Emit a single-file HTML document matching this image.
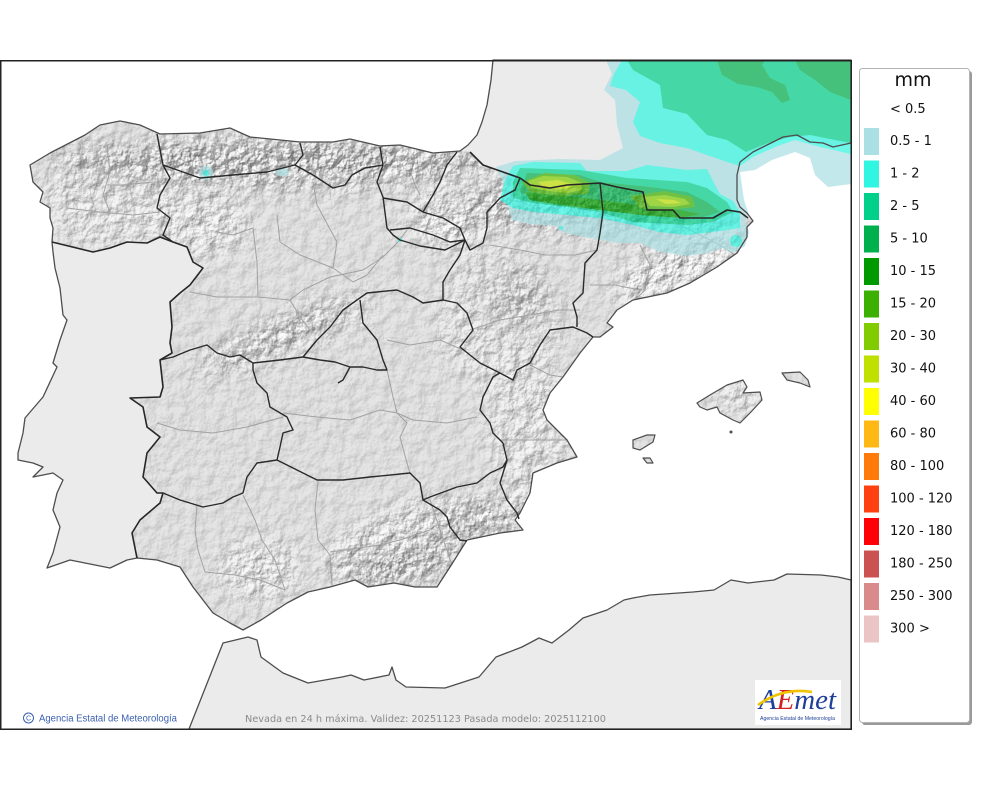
<!DOCTYPE html>
<html><head><meta charset="utf-8"><style>
html,body{margin:0;padding:0;background:#fff;width:1000px;height:790px;overflow:hidden}
svg{display:block}
</style></head><body>
<svg width="1000" height="790" viewBox="0 0 1000 790" xmlns="http://www.w3.org/2000/svg">
<defs>
<filter id="hs" filterUnits="userSpaceOnUse" x="0" y="60" width="851" height="670" color-interpolation-filters="sRGB">
<feTurbulence type="fractalNoise" baseFrequency="0.085" numOctaves="4" seed="4" result="n"/>
<feDiffuseLighting in="n" surfaceScale="4" diffuseConstant="1" lighting-color="#ffffff" result="l">
<feDistantLight azimuth="225" elevation="45"/>
</feDiffuseLighting>
<feComponentTransfer>
<feFuncR type="linear" slope="0.6" intercept="0.45"/>
<feFuncG type="linear" slope="0.6" intercept="0.45"/>
<feFuncB type="linear" slope="0.6" intercept="0.45"/>
<feFuncA type="linear" slope="0" intercept="1"/>
</feComponentTransfer>
</filter>
<filter id="hs2" filterUnits="userSpaceOnUse" x="0" y="60" width="851" height="670" color-interpolation-filters="sRGB">
<feTurbulence type="fractalNoise" baseFrequency="0.11" numOctaves="3" seed="9" result="n"/>
<feDiffuseLighting in="n" surfaceScale="9" diffuseConstant="1" lighting-color="#ffffff" result="l">
<feDistantLight azimuth="225" elevation="40"/>
</feDiffuseLighting>
<feComponentTransfer>
<feFuncR type="linear" slope="0.75" intercept="0.33"/>
<feFuncG type="linear" slope="0.75" intercept="0.33"/>
<feFuncB type="linear" slope="0.75" intercept="0.33"/>
<feFuncA type="linear" slope="0" intercept="1"/>
</feComponentTransfer>
</filter>
<filter id="blur" x="-50%" y="-50%" width="200%" height="200%"><feGaussianBlur stdDeviation="12"/></filter>
<clipPath id="spain">
<polygon points="470,152 483,165 503,172 520,178 530,185 550,188 567,185 600,183 617,187 643,192 647,210 673,210 680,218 713,218 727,210 740,212 748,218 753,221 747,227 747,237 737,253 717,267 690,283 667,293 633,300 617,310 607,323 613,327 600,337 593,337 580,353 563,377 550,393 543,410 547,420 567,440 577,457 557,463 533,473 530,493 520,513 515,520 523,530 500,533 467,540 450,567 437,587 415,587 394,583 368,587 355,580 330,587 308,592 287,603 261,620 243,630 230,623 213,613 203,600 193,587 180,567 157,560 137,558 132,533 140,520 160,503 163,493 157,493 143,477 147,453 160,437 147,427 143,407 130,398 160,397 163,387 160,360 172,353 170,343 172,327 170,302 180,293 190,285 203,268 193,262 187,247 173,242 160,237 147,243 127,242 110,248 93,252 52,242 53,228 50,218 50,208 40,202 43,192 33,182 30,165 50,153 85,135 100,125 120,121 140,125 160,134 200,133 230,128 250,137 300,142 333,142 350,139 380,146 400,145 433,153 460,151"/>
<polygon points="697,403 710,395 727,385 743,380 747,387 743,393 760,392 762,400 750,413 740,423 733,420 720,413 717,407 707,410 700,407"/>
<polygon points="782,373 800,372 808,380 810,387 800,383 787,380"/>
<polygon points="633,440 647,435 655,435 653,442 640,450 633,448"/>
<polygon points="643,458 647,463 653,463 650,458"/>
</clipPath>
<mask id="mtn" maskUnits="userSpaceOnUse" x="0" y="0" width="1000" height="790">
<rect x="0" y="0" width="1000" height="790" fill="#404040"/>
<g filter="url(#blur)" fill="#fff">
<ellipse cx="280" cy="162" rx="230" ry="26"/>
<ellipse cx="110" cy="195" rx="65" ry="55" fill="#b0b0b0"/>
<ellipse cx="200" cy="225" rx="50" ry="30" fill="#d0d0d0"/>
<ellipse cx="285" cy="335" rx="95" ry="16" transform="rotate(-22 285 335)"/>
<ellipse cx="500" cy="320" rx="60" ry="70" fill="#a0a0a0"/>
<ellipse cx="430" cy="540" rx="110" ry="35" transform="rotate(-15 430 540)"/>
<ellipse cx="600" cy="205" rx="150" ry="28"/>
<ellipse cx="680" cy="265" rx="70" ry="25" transform="rotate(-25 680 265)"/>
<ellipse cx="530" cy="430" rx="40" ry="70" fill="#b0b0b0"/>
<ellipse cx="260" cy="570" rx="40" ry="30" fill="#d0d0d0"/>
<ellipse cx="450" cy="220" rx="40" ry="25"/>
<ellipse cx="740" cy="395" rx="25" ry="12"/>
</g>
</mask>
<mask id="mtn2" maskUnits="userSpaceOnUse" x="0" y="0" width="1000" height="790">
<rect x="0" y="0" width="1000" height="790" fill="#000"/>
<g filter="url(#blur)" fill="#9a9a9a">
<ellipse cx="270" cy="162" rx="220" ry="20"/>
<ellipse cx="280" cy="335" rx="80" ry="10" transform="rotate(-22 280 335)"/>
<ellipse cx="400" cy="565" rx="60" ry="18" transform="rotate(-10 400 565)"/>
<ellipse cx="600" cy="205" rx="140" ry="20"/>
<ellipse cx="470" cy="520" rx="45" ry="20" fill="#707070"/>
<ellipse cx="520" cy="300" rx="35" ry="30" fill="#606060"/>
</g>
</mask>
</defs>

<!-- sea -->
<rect x="0" y="60" width="851" height="670" fill="#ffffff"/>

<!-- land (France/Portugal/Spain) -->
<polygon fill="#ebebeb" points="493,60 491,80 487,105 482,122 477,135 468,145 460,151 433,153 400,145 380,146 350,139 333,142 300,142 250,137 230,128 200,133 160,134 140,125 120,121 100,125 85,135 50,153 30,165 33,182 43,192 40,202 50,208 50,218 53,228 52,242 53,252 55,268 60,288 63,315 67,320 60,340 53,363 57,367 43,397 25,418 23,433 18,453 18,460 33,463 43,467 33,477 53,473 63,480 57,493 53,510 60,527 53,553 47,568 70,560 110,568 127,560 137,558 157,560 180,567 193,587 203,600 213,613 230,623 243,630 261,620 287,603 308,592 330,587 355,580 368,587 394,583 415,587 437,587 450,567 467,540 500,533 523,530 515,520 520,513 530,493 533,473 557,463 577,457 567,440 547,420 543,410 550,393 563,377 580,353 593,337 600,337 613,327 607,323 617,310 633,300 667,293 690,283 717,267 737,253 747,237 747,227 753,221 747,213 740,207 737,200 737,175 740,162 753,152 767,145 783,137 797,135 810,142 823,143 833,147 851,143 851,60"/>

<!-- Africa -->
<polygon fill="#ebebeb" stroke="#4d4d4d" stroke-width="1.3" stroke-linejoin="round" points="189,729 223,643 248,637 257,640 261,657 283,673 308,683 342,677 351,675 364,680 389,675 392,667 396,680 406,687 445,688 479,677 496,657 522,647 539,638 552,643 569,630 583,618 607,610 624,600 633,598 650,595 693,592 714,590 731,580 748,583 774,580 787,574 821,575 838,577 851,580 851,729"/>

<!-- Spain base -->
<rect x="0" y="60" width="851" height="670" fill="#dddddd" clip-path="url(#spain)"/>
<!-- hillshade texture -->
<g mask="url(#mtn)"><g clip-path="url(#spain)"><rect x="0" y="60" width="851" height="670" fill="#fff" filter="url(#hs)"/></g></g>
<g mask="url(#mtn2)"><g clip-path="url(#spain)"><rect x="0" y="60" width="851" height="670" fill="#fff" filter="url(#hs2)"/></g></g>

<!-- province lines -->
<g fill="none" stroke="#a2a2a2" stroke-width="1" stroke-linejoin="round">
<path d="M107,145 L110,172 L103,195 L110,212"/>
<path d="M67,208 L100,212 L133,215 L160,212"/>
<path d="M107,185 L123,185 L153,182"/>
<path d="M217,232 L233,235 L253,228 L257,262 L258,297"/>
<path d="M277,215 L280,242 L300,255 L333,268 L353,282 L367,275 L383,255"/>
<path d="M313,182 L317,205 L337,242 L333,268"/>
<path d="M190,292 L217,297 L258,297 L290,300 L303,290 L330,277 L363,270 L383,257 L397,243 L407,230"/>
<path d="M290,300 L300,317 L310,330"/>
<path d="M157,423 L180,430 L213,433 L247,427 L283,417"/>
<path d="M387,370 L393,397 L397,413 L407,423 L400,437 L407,463 L410,473"/>
<path d="M283,413 L317,417 L350,420 L380,410 L397,413 L413,420 L447,423 L477,417"/>
<path d="M387,340 L410,345 L440,340 L463,350"/>
<path d="M197,505 L195,530 L198,550 L205,572"/>
<path d="M243,495 L255,520 L262,540 L275,560 L285,590"/>
<path d="M318,481 L315,510 L318,540 L330,555 L332,585"/>
<path d="M330,552 L380,545 L400,540 L430,530"/>
<path d="M430,500 L440,530 L452,565"/>
<path d="M205,572 L235,575 L260,580 L285,590"/>
<path d="M490,245 L520,250 L545,255 L575,255 L597,250"/>
<path d="M470,330 L500,320 L530,315 L560,310 L580,310"/>
<path d="M640,245 L650,265 L645,290 L635,300"/>
<path d="M680,225 L700,235 L720,245 L735,255"/>
<path d="M590,285 L615,285 L640,290"/>
<path d="M530,365 L550,375 L563,377"/>
<path d="M500,440 L520,440 L545,440 L567,440"/>
<path d="M410,170 L415,185 L420,195"/>
<path d="M433,160 L430,175"/>
</g>

<!-- snow overlay -->
<g opacity="0.7" stroke="none">
<polygon fill="#aadfe3" points="606,60 612,74 604,90 615,100 617,125 623,148 600,160 560,159 515,161 496,167 503,182 507,202 512,220 530,224 557,226 565,233 585,237 617,243 640,243 660,252 687,256 707,253 722,248 733,253 745,246 749,232 745,220 748,212 744,200 740,172 755,170 772,160 795,152 810,158 815,175 828,187 851,184 851,60"/>
<circle cx="206" cy="173" r="7" fill="#aadfe3"/>
<ellipse cx="282" cy="172" rx="7" ry="4" fill="#aadfe3"/>
<circle cx="561" cy="228" r="3" fill="#aadfe3"/>
<polygon fill="#30f5e0" points="622,60 614,74 610,86 626,90 640,102 633,122 640,136 660,143 687,148 707,155 727,162 740,166 753,157 775,147 795,140 820,147 851,154 851,60"/>
<polygon fill="#30f5e0" points="500,200 505,180 513,166 533,162 580,163 587,171 627,171 647,165 687,170 707,169 715,185 720,194 733,201 740,212 740,228 713,232 687,235 660,232 633,225 600,218 567,215 533,212 513,208"/>
<circle cx="736" cy="241" r="6" fill="#30f5e0"/>
<circle cx="206" cy="173" r="3" fill="#30f5e0"/>
<circle cx="561" cy="228" r="2" fill="#30f5e0"/>
<circle cx="400" cy="240" r="2" fill="#30f5e0"/>
<polygon fill="#00d08a" points="627,60 633,70 660,85 663,108 687,114 707,135 727,140 746,152 768,143 790,137 810,135 835,140 851,143 851,60"/>
<polygon fill="#00d08a" points="513,198 513,182 520,168 580,170 627,178 687,182 707,188 727,202 733,212 713,222 687,225 633,222 600,212 567,207 533,203"/>
<polygon fill="#00b04c" points="717,60 722,75 738,84 757,87 772,92 782,103 790,100 785,85 770,78 762,65 765,60"/>
<polygon fill="#00b04c" points="795,60 800,70 815,80 830,92 851,100 851,60"/>
<polygon fill="#00b04c" points="520,192 527,173 580,175 600,182 650,187 687,192 707,202 720,212 700,218 650,215 600,208 567,203 533,198"/>
<polygon fill="#009a00" points="525,192 560,195 600,200 640,205 680,210 700,214 680,218 640,215 600,210 560,205 530,200"/>
<polygon fill="#3cb000" points="522,182 545,173 575,175 590,183 588,194 560,196 530,192"/>
<polygon fill="#80cc00" points="528,181 543,176 567,177 582,183 581,190 568,193 548,191 532,188"/>
<polygon fill="#c0e000" points="538,182 558,180 574,185 565,189 545,188"/>
<circle cx="544" cy="186" r="1.3" fill="#ffb814"/>
<polygon fill="#3cb000" points="630,196 665,191 692,197 695,207 670,210 640,208"/>
<polygon fill="#80cc00" points="643,197 665,195 685,199 690,204 673,207 650,206"/>
<polygon fill="#c0e000" points="656,199 674,200 681,203 666,204"/>
</g>

<!-- coastlines on top -->
<polygon fill="none" stroke="#4d4d4d" stroke-width="1.3" stroke-linejoin="round" points="493,60 491,80 487,105 482,122 477,135 468,145 460,151 433,153 400,145 380,146 350,139 333,142 300,142 250,137 230,128 200,133 160,134 140,125 120,121 100,125 85,135 50,153 30,165 33,182 43,192 40,202 50,208 50,218 53,228 52,242 53,252 55,268 60,288 63,315 67,320 60,340 53,363 57,367 43,397 25,418 23,433 18,453 18,460 33,463 43,467 33,477 53,473 63,480 57,493 53,510 60,527 53,553 47,568 70,560 110,568 127,560 137,558 157,560 180,567 193,587 203,600 213,613 230,623 243,630 261,620 287,603 308,592 330,587 355,580 368,587 394,583 415,587 437,587 450,567 467,540 500,533 523,530 515,520 520,513 530,493 533,473 557,463 577,457 567,440 547,420 543,410 550,393 563,377 580,353 593,337 600,337 613,327 607,323 617,310 633,300 667,293 690,283 717,267 737,253 747,237 747,227 753,221 747,213 740,207 737,200 737,175 740,162 753,152 767,145 783,137 797,135 810,142 823,143 833,147 851,143 851,60"/>
<g fill="none" stroke="#4d4d4d" stroke-width="1.2" stroke-linejoin="round">
<polygon points="697,403 710,395 727,385 743,380 747,387 743,393 760,392 762,400 750,413 740,423 733,420 720,413 717,407 707,410 700,407"/>
<polygon points="782,373 800,372 808,380 810,387 800,383 787,380"/>
<polygon points="633,440 647,435 655,435 653,442 640,450 633,448"/>
<polygon points="643,458 647,463 653,463 650,458"/>
</g>
<circle cx="731" cy="432" r="1.5" fill="#4d4d4d"/>

<!-- national borders -->
<g fill="none" stroke="#262626" stroke-width="1.6" stroke-linejoin="round">
<path d="M470,152 L483,165 L503,172 L520,178 L530,185 L550,188 L567,185 L600,183 L617,187 L643,192 L647,210 L673,210 L680,218 L713,218 L727,210 L740,212 L748,218"/>
<path d="M52,242 L93,252 L110,248 L127,242 L147,243 L160,237 L173,242 L187,247 L193,262 L203,268 L190,285 L180,293 L170,302 L172,327 L170,343 L172,353 L160,360 L163,387 L160,397 L130,398 L143,407 L147,427 L160,437 L147,453 L143,477 L157,493 L163,493 L160,503 L140,520 L132,533 L137,558"/>
</g>
<!-- regional borders -->
<g fill="none" stroke="#2a2a2a" stroke-width="1.4" stroke-linejoin="round">
<path d="M157,134 L163,165 L170,178 L160,195 L157,208 L170,218 L163,235 L173,242"/>
<path d="M163,165 L200,178 L233,175 L267,172 L295,165 L313,175 L333,188 L345,185 L352,175 L365,168 L383,165"/>
<path d="M300,143 L303,155 L295,165"/>
<path d="M380,147 L383,165"/>
<path d="M383,165 L377,182 L383,197 L387,228 L393,235 L400,240 L420,246 L445,250 L465,240"/>
<path d="M383,198 L407,202 L423,212 L443,218 L460,228 L465,240 L450,242 L433,235 L410,228 L390,230"/>
<path d="M457,152 L447,165 L440,182 L433,195 L423,212"/>
<path d="M520,178 L515,190 L500,198 L487,212 L487,228 L483,243 L470,250 L465,240"/>
<path d="M465,240 L460,255 L450,270 L443,282 L443,300 L457,303 L467,313 L473,330 L460,347 L480,363 L500,373 L513,380 L517,370 L530,363 L540,345 L550,330 L573,327 L587,333 L593,337"/>
<path d="M600,183 L603,212 L600,233 L597,250 L585,263 L583,293 L573,303 L577,317 L577,327"/>
<path d="M160,360 L173,357 L190,350 L207,345 L217,353 L230,357 L240,355 L253,363 L280,360 L303,357 L317,340 L330,327 L343,310 L357,300 L367,293 L397,290 L413,297 L423,303 L443,300"/>
<path d="M303,357 L320,360 L335,362 L350,367 L363,367 L377,370 L387,370 L383,360 L377,340 L363,323 L360,300"/>
<path d="M350,367 L343,380 L338,383"/>
<path d="M253,363 L253,370 L257,383 L267,393 L270,407 L287,417 L293,430 L283,433 L280,447 L277,460 L257,463 L247,477 L243,493 L233,497 L223,503 L203,507 L180,500 L163,493"/>
<path d="M277,460 L297,470 L317,480 L343,480 L370,477 L410,473 L420,483 L423,500 L430,497 L457,487 L477,483 L490,473 L503,467 L507,460 L503,443 L493,433 L490,423 L480,410 L483,397 L493,377 L500,373"/>
<path d="M423,500 L440,510 L447,517 L450,527 L460,540 L467,541"/>
<path d="M507,460 L500,483 L507,500 L517,513 L519,519"/>
</g>

<!-- frame -->
<rect x="0.75" y="60.75" width="850.5" height="668.5" fill="none" stroke="#222" stroke-width="1.5"/>

<!-- footer texts -->
<circle cx="28.5" cy="718" r="5" fill="none" stroke="#3a5fb0" stroke-width="1"/>
<text x="28.5" y="720.6" font-family="Liberation Sans, sans-serif" font-size="7" fill="#3a5fb0" text-anchor="middle">C</text>
<text x="39" y="721.5" font-family="Liberation Sans, sans-serif" font-size="10" fill="#3a5fb0" textLength="138" lengthAdjust="spacingAndGlyphs">Agencia Estatal de Meteorología</text>
<text x="245" y="722" font-family="DejaVu Sans, sans-serif" font-size="9.5" fill="#8a8a8a" textLength="361" lengthAdjust="spacingAndGlyphs">Nevada en 24 h máxima. Validez: 20251123 Pasada modelo: 2025112100</text>

<!-- logo -->
<rect x="755" y="680" width="86" height="45" fill="#ffffff"/>
<text x="759" y="709" font-family="Liberation Serif, serif" font-style="italic" font-size="28" textLength="77" lengthAdjust="spacingAndGlyphs"><tspan fill="#1f3f9a">A</tspan><tspan fill="#d42020">E</tspan><tspan fill="#1f3f9a">met</tspan></text>
<path d="M758,705 Q783,687 812,692" fill="none" stroke="#f2c400" stroke-width="2.6"/>
<text x="760" y="720" font-family="Liberation Sans, sans-serif" font-size="5.2" fill="#1f3f9a" textLength="75" lengthAdjust="spacingAndGlyphs">Agencia Estatal de Meteorología</text>

<!-- legend -->
<rect x="862" y="71" width="110" height="654" rx="3" fill="#9a9a9a"/>
<rect x="859.5" y="68.5" width="110" height="654" rx="3" fill="#ffffff" stroke="#b4b4b4" stroke-width="1"/>
<g font-family="DejaVu Sans, sans-serif" fill="#111">
<text x="913" y="86" font-size="19" text-anchor="middle">mm</text>
<text x="890" y="113" font-size="13">&lt; 0.5</text>
<rect x="864" y="128" width="15" height="27" fill="#aadfe3"/><text x="890" y="145" font-size="13">0.5 - 1</text>
<rect x="864" y="160.5" width="15" height="27" fill="#30f5e0"/><text x="890" y="177.5" font-size="13">1 - 2</text>
<rect x="864" y="193" width="15" height="27" fill="#00d08a"/><text x="890" y="210" font-size="13">2 - 5</text>
<rect x="864" y="225.5" width="15" height="27" fill="#00b04c"/><text x="890" y="242.5" font-size="13">5 - 10</text>
<rect x="864" y="258" width="15" height="27" fill="#009a00"/><text x="890" y="275" font-size="13">10 - 15</text>
<rect x="864" y="290.5" width="15" height="27" fill="#3cb000"/><text x="890" y="307.5" font-size="13">15 - 20</text>
<rect x="864" y="323" width="15" height="27" fill="#80cc00"/><text x="890" y="340" font-size="13">20 - 30</text>
<rect x="864" y="355.5" width="15" height="27" fill="#c0e000"/><text x="890" y="372.5" font-size="13">30 - 40</text>
<rect x="864" y="388" width="15" height="27" fill="#ffff00"/><text x="890" y="405" font-size="13">40 - 60</text>
<rect x="864" y="420.5" width="15" height="27" fill="#ffb814"/><text x="890" y="437.5" font-size="13">60 - 80</text>
<rect x="864" y="453" width="15" height="27" fill="#ff7a0a"/><text x="890" y="470" font-size="13">80 - 100</text>
<rect x="864" y="485.5" width="15" height="27" fill="#ff4010"/><text x="890" y="502.5" font-size="13">100 - 120</text>
<rect x="864" y="518" width="15" height="27" fill="#ff0008"/><text x="890" y="535" font-size="13">120 - 180</text>
<rect x="864" y="550.5" width="15" height="27" fill="#cc5252"/><text x="890" y="567.5" font-size="13">180 - 250</text>
<rect x="864" y="583" width="15" height="27" fill="#d98a8a"/><text x="890" y="600" font-size="13">250 - 300</text>
<rect x="864" y="615.5" width="15" height="27" fill="#ebc5c5"/><text x="890" y="632.5" font-size="13">300 &gt;</text>
</g>
</svg>
</body></html>
